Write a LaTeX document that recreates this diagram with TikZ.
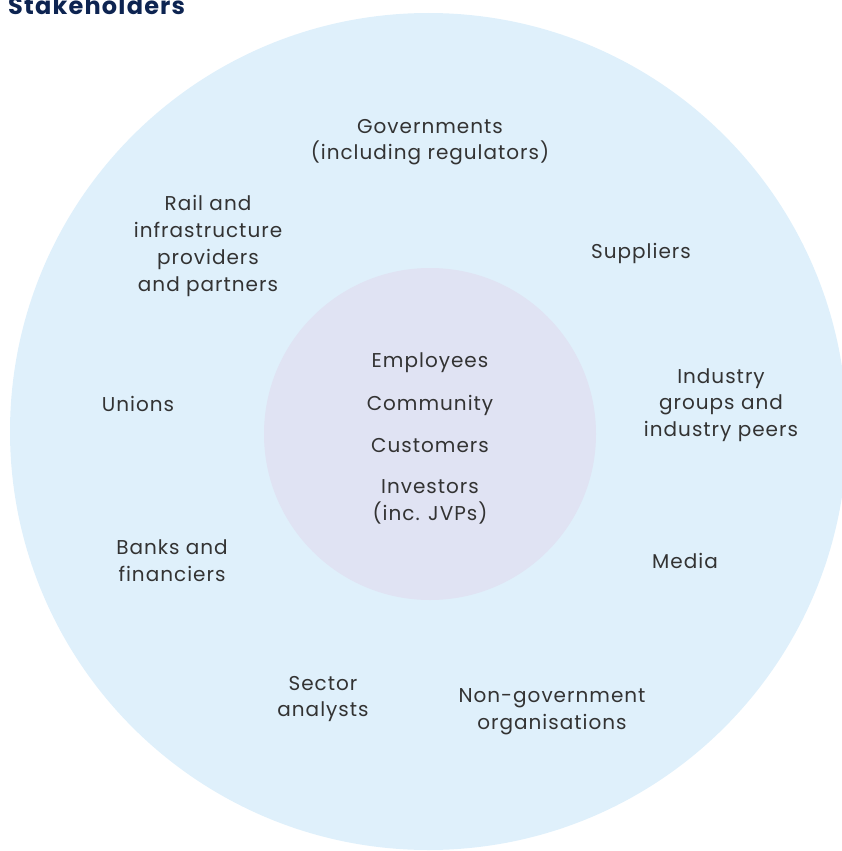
\documentclass[tikz,border=0pt]{standalone}
\usepackage{fontspec}
\setmainfont{Poppins}[LetterSpace=5]
\usepackage{tikz}
\usetikzlibrary{positioning}

\definecolor{outerblue}{HTML}{DFF0FB}
\definecolor{innerlilac}{HTML}{E0E3F3}
\definecolor{labelgrey}{HTML}{333333}
\definecolor{titlenavy}{HTML}{0D2451}

\tikzset{
  group/.style={align=center, text=labelgrey, inner sep=0pt,
    font=\fontsize{20}{26.7}\selectfont},
  heading/.style={anchor=base west, text=titlenavy, inner sep=0pt,
    font=\fontsize{24}{27}\selectfont\bfseries}
}

\begin{document}
\begin{tikzpicture}[x=1pt, y=-1pt]
                \useasboundingbox (0, 0) rectangle (842, 851);
                \clip (0, 0) rectangle (842, 851);

                % rings
                \fill [outerblue] (428.5, 431.5) circle [radius = 418.5pt];
                \fill [innerlilac] (430, 434) circle [radius = 166pt];

                \node [heading] (title) at (8, 15) {Stakeholders};

                % outer ring
                \node [group] (gov) at (430, 142) {Governments\\(including regulators)};
                \node [group] (rail) at (208, 246) {Rail and\\infrastructure\\providers\\and partners};
                \node [group] (supp) at (641, 253) {Suppliers};
                \node [group] (unions) at (138, 404) {Unions};
                \node [group] (industry) at (721, 405) {Industry\\groups and\\industry peers};
                \node [group] (banks) at (172, 561) {Banks and\\financiers};
                \node [group] (media) at (685, 561) {Media};
                \node [group] (sector) at (323, 699) {Sector\\analysts};
                \node [group] (ngo) at (552, 712) {Non-government\\organisations};

                % inner circle
                \node [group] (staff) at (430, 363) {Employees};
                \node [group] (comm) at (430, 405) {Community};
                \node [group] (cust) at (430, 446) {Customers};
                \node [group] (invest) at (430, 502) {Investors\\(inc. JVPs)};
            \end{tikzpicture}
\end{document}
